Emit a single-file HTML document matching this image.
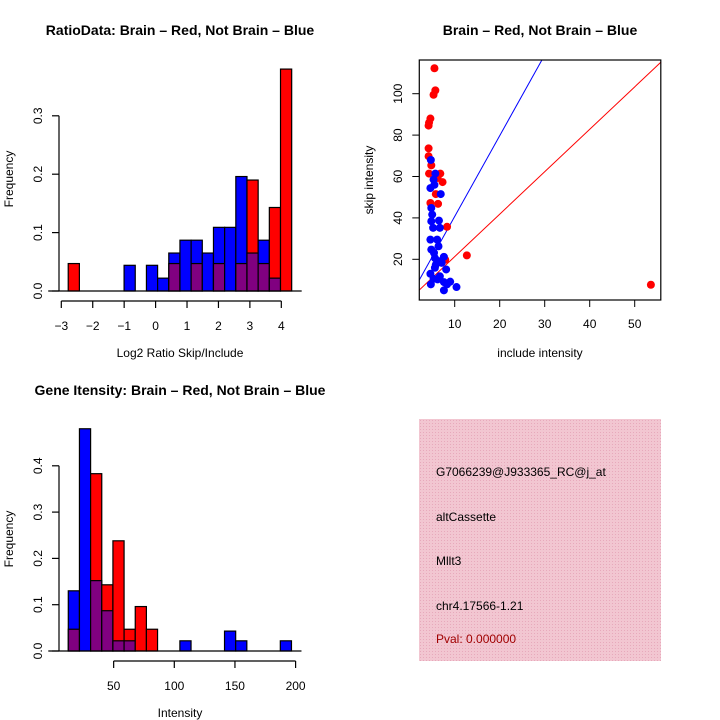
<!DOCTYPE html>
<html><head><meta charset="utf-8"><style>
body{margin:0;background:#fff;overflow:hidden}
svg{display:block;font-family:"Liberation Sans",sans-serif}
</style></head><body>
<svg id="s" width="720" height="720" viewBox="0 0 720 720">
<rect width="720" height="720" fill="#fff"/>
<defs><pattern id="hatch" width="3" height="3" patternUnits="userSpaceOnUse"><rect width="3" height="3" fill="#f2c6d1"/><rect width="1" height="1" fill="#e7a9bb"/></pattern></defs>
<text x="180" y="35" font-size="14" font-weight="bold" text-anchor="middle">RatioData: Brain – Red, Not Brain – Blue</text>
<text x="540" y="35" font-size="14" font-weight="bold" text-anchor="middle">Brain – Red, Not Brain – Blue</text>
<text x="180" y="395" font-size="14" font-weight="bold" text-anchor="middle">Gene Itensity: Brain – Red, Not Brain – Blue</text>
<g id="g1"></g>
<g id="g2"></g>
<g id="g3"></g>
<g>
<rect x="419" y="419" width="242" height="242" fill="url(#hatch)"/>
<text x="436" y="476" font-size="12">G7066239@J933365_RC@j_at</text>
<text x="436" y="521" font-size="12">altCassette</text>
<text x="436" y="565" font-size="12">Mllt3</text>
<text x="436" y="610" font-size="12">chr4.17566-1.21</text>
<text x="436" y="643" font-size="12" fill="#a00000">Pval: 0.000000</text>
</g>
</svg>
<script>
// Ratio histogram data
const ratioBlue=[0,0,0,0,0,0.044,0,0.044,0.022,0.065,0.087,0.087,0.065,0.109,0.109,0.196,0.065,0.087,0.022,0];
const ratioRed=[0.047,0,0,0,0,0,0,0,0,0.047,0,0.047,0,0.047,0,0.047,0.19,0.047,0.143,0.38];
const ratioTicksX=[-3,-2,-1,0,1,2,3,4];
const ratioTicksY=[0,0.1,0.2,0.3];
// Intensity histogram data
const intBlue=[0.13,0.48,0.152,0.087,0.022,0.022,0,0,0,0,0.022,0,0,0,0.043,0.022,0,0,0,0.022];
const intRed=[0.047,0,0.383,0.143,0.238,0.047,0.096,0.047,0,0,0,0,0,0,0,0,0,0,0,0];
const intTicksX=[50,100,150,200];
const intTicksY=[0,0.1,0.2,0.3,0.4];
// Scatter data
const redX=[5.5,5.7,5.3,4.6,4.3,4.2,4.2,4.2,4.8,4.3,6.8,6.2,7.3,5.8,4.6,6.3,8.3,12.7,53.6,7.9];
const redY=[112.3,101.6,99.5,88,86,84.6,73.6,69.8,65.4,61.4,61.4,59.3,57.3,51.5,47.2,46.8,35.7,21.9,7.7,19.8];
const blueX=[4.7,5.7,5.3,5.5,4.6,6.9,4.8,5,4.8,6.5,5.2,6.7,4.6,6.1,6.4,4.8,5.4,7.6,6.4,7.1,5.6,8.1,4.6,5.3,6.7,6.2,7.6,9,8.3,4.7,7.6,10.4,5.6,5.8];
const blueY=[68,61.4,58.5,56,54.4,51.5,44.8,41.6,38.4,38.7,35.2,35.2,29.5,29.5,26.3,24.7,23.1,21.2,19.1,18.3,15.9,15.1,13,10.6,11.8,10.3,9,9.2,7.9,7.9,5,6.6,20.6,17.4];
const redLine=[0.8,2.05];   // intercept, slope
const blueLine=[1.7,3.9];
const scatTicksX=[10,20,30,40,50];
const scatTicksY=[20,40,60,80,100];

const NS='http://www.w3.org/2000/svg';
function mk(p,tag,a,txt){const e=document.createElementNS(NS,tag);for(const k in a)e.setAttribute(k,a[k]);if(txt!==undefined)e.textContent=txt;p.appendChild(e);return e;}

function hist(g,blue,red,x0,bw,sx,sy,tx,ty,xAxisY,xlab,xlabY,fmtX,xAxisRange,ylabY){
  for(let i=0;i<blue.length;i++){
    const b=blue[i],r=red[i];const L=sx(x0+i*bw),R=sx(x0+(i+1)*bw);
    const mx=Math.max(b,r),mn=Math.min(b,r);
    if(mx>0){const e=mk(g,'rect',{x:L,y:sy(mx),width:R-L,height:sy(0)-sy(mx),fill:b>=r?'#0000ff':'#ff0000',stroke:'#000','stroke-width':1.2});
      
      }
    if(mn>0){const e=mk(g,'rect',{x:L,y:sy(mn),width:R-L,height:sy(0)-sy(mn),fill:'#800080',stroke:'#000','stroke-width':1.2});
      
      }
  }
  mk(g,'line',{x1:sx(x0)-20,x2:sx(x0+blue.length*bw)+10,y1:sy(0),y2:sy(0),stroke:'#000','stroke-width':1.2});
  mk(g,'line',{x1:59,x2:59,y1:sy(0),y2:sy(ty[ty.length-1]),stroke:'#000','stroke-width':1.2});
  ty.forEach(v=>{mk(g,'line',{x1:52,x2:59,y1:sy(v),y2:sy(v),stroke:'#000','stroke-width':1.2});
    const t=mk(g,'text',{x:0,y:0,'font-size':12,'text-anchor':'middle',transform:`translate(42,${sy(v)}) rotate(-90)`},v.toFixed(1));
    
    });
  mk(g,'line',{x1:sx(xAxisRange[0]),x2:sx(xAxisRange[1]),y1:xAxisY,y2:xAxisY,stroke:'#000','stroke-width':1.2});
  tx.forEach(v=>{mk(g,'line',{x1:sx(v),x2:sx(v),y1:xAxisY,y2:xAxisY+7,stroke:'#000','stroke-width':1.2});
    const t=mk(g,'text',{x:sx(v),y:xAxisY+29,'font-size':12,'text-anchor':'middle'},fmtX(v));
    
    });
  const yl=mk(g,'text',{x:0,y:0,'font-size':12,'text-anchor':'middle',transform:`translate(13,${ylabY}) rotate(-90)`},'Frequency');
  
  
  const xl=mk(g,'text',{x:xlab[1],y:xlabY,'font-size':12,'text-anchor':'middle'},xlab[0]);
  
  
}
// Chart 1
hist(document.getElementById('g1'),ratioBlue,ratioRed,-2.78,0.3555,
  v=>61.3+(v+3)*31.43, v=>291-v*584, ratioTicksX, ratioTicksY,301,['Log2 Ratio Skip/Include',180],357,
  v=>v<0?'\u2212'+(-v):String(v),[-3,4],179);
// Chart 3
hist(document.getElementById('g3'),intBlue,intRed,12.6,9.2,
  v=>53+v*1.213, v=>651-v*463, intTicksX, intTicksY,661,['Intensity',180],717,
  v=>String(v),[50,200],539);
// Scatter
(function(){
  const g=document.getElementById('g2');
  const sx=v=>409.7+v*4.5, sy=v=>300.7-v*2.07;
  const xmin=2.13,xmax=55.8;
  const cp=mk(g,'clipPath',{id:'cp'});mk(cp,'rect',{x:sx(xmin),y:60,width:sx(xmax)-sx(xmin),height:240});
  const bl=mk(g,'line',{x1:sx(xmin),y1:sy(blueLine[0]+blueLine[1]*xmin),x2:sx(xmax),y2:sy(blueLine[0]+blueLine[1]*xmax),stroke:'#0000ff','clip-path':'url(#cp)'});
  
  
  const rl=mk(g,'line',{x1:sx(xmin),y1:sy(redLine[0]+redLine[1]*xmin),x2:sx(xmax),y2:sy(redLine[0]+redLine[1]*xmax),stroke:'#ff0000','clip-path':'url(#cp)'});
  
  
  redX.forEach((x,i)=>{const c=mk(g,'circle',{cx:sx(x),cy:sy(redY[i]),r:4,fill:'#ff0000'});
    
    });
  blueX.forEach((x,i)=>{const c=mk(g,'circle',{cx:sx(x),cy:sy(blueY[i]),r:4,fill:'#0000ff'});
    
    });
  mk(g,'rect',{x:sx(xmin),y:60,width:sx(xmax)-sx(xmin),height:240,fill:'none',stroke:'#000','stroke-width':1.2});
  scatTicksX.forEach(v=>{mk(g,'line',{x1:sx(v),x2:sx(v),y1:300,y2:307,stroke:'#000'});
    const t=mk(g,'text',{x:sx(v),y:328,'font-size':12,'text-anchor':'middle'},String(v));
    
    });
  scatTicksY.forEach(v=>{mk(g,'line',{x1:sx(xmin)-7,x2:sx(xmin),y1:sy(v),y2:sy(v),stroke:'#000'});
    const t=mk(g,'text',{x:0,y:0,'font-size':12,'text-anchor':'middle',transform:`translate(402,${sy(v)}) rotate(-90)`},String(v));
    
    });
  const xl=mk(g,'text',{x:540,y:357,'font-size':12,'text-anchor':'middle'},'include intensity');
  
  
  const yl=mk(g,'text',{x:0,y:0,'font-size':12,'text-anchor':'middle',transform:'translate(373,180) rotate(-90)'},'skip intensity');
  
  
})();
</script>
</body></html>
